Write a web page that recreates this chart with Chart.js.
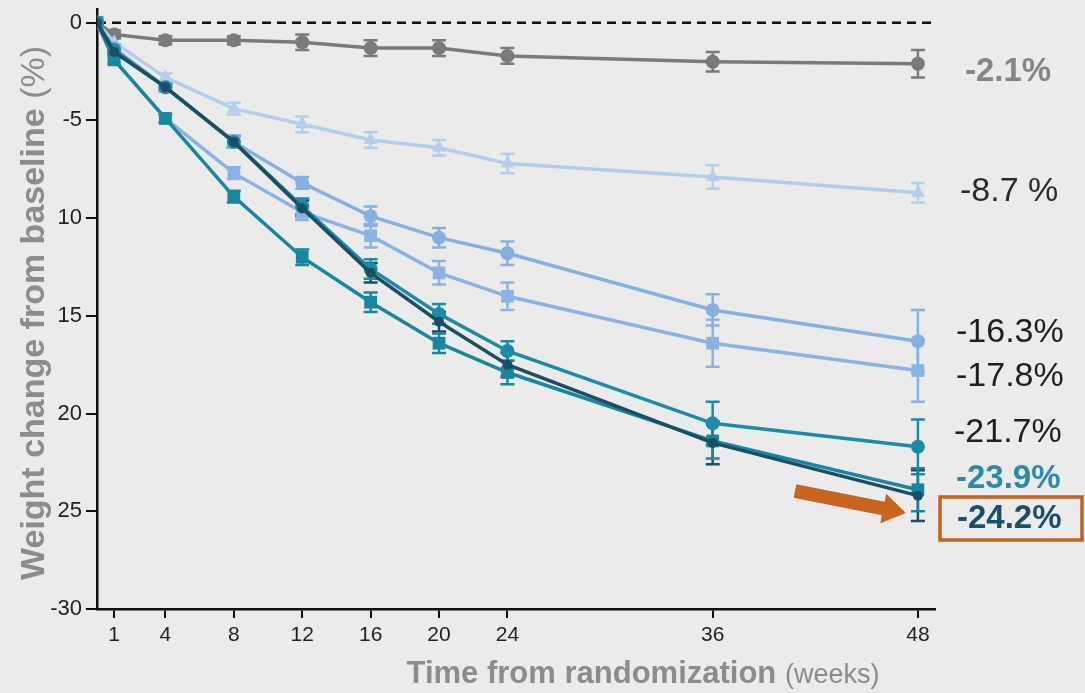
<!DOCTYPE html>
<html>
<head>
<meta charset="utf-8">
<script src="https://cdn.jsdelivr.net/npm/chart.js@4/dist/chart.umd.min.js"></script>
<style>
  html, body { margin: 0; padding: 0; background: #ebebeb; }
  #wrap { width: 1085px; height: 693px; }
</style>
</head>
<body>
<div id="wrap"><canvas id="weight-change"></canvas></div>
<script>
// Weeks from randomization
const weeks = [0, 1, 4, 8, 12, 16, 20, 24, 36, 48];

// Mean weight change (%) per arm
const placebo     = [0, -0.6, -0.9, -0.9, -1.0, -1.3, -1.3, -1.7, -2.0, -2.1];
const armTriangle = [0, -1.0, -2.8, -4.4, -5.2, -6.0, -6.4, -7.2, -7.9, -8.7];
const armCircleLt = [0, -1.3, -3.3, -6.1, -8.2, -9.9, -11.0, -11.8, -14.7, -16.3];
const armSquareLt = [0, -1.9, -4.9, -7.7, -9.7, -10.9, -12.8, -14.0, -16.4, -17.8];
const armCircleTl = [0, -1.4, -3.3, -6.1, -9.4, -12.6, -14.9, -16.8, -20.5, -21.7];
const armSquareTl = [0, -1.9, -4.9, -8.9, -12.0, -14.3, -16.4, -17.9, -21.4, -23.9];
const armNavy     = [0, -1.5, -3.3, -6.1, -9.5, -12.8, -15.3, -17.5, -21.5, -24.2];

// Error bar half widths
const errPlacebo     = [0, 0.2, 0.2, 0.2, 0.4, 0.4, 0.4, 0.4, 0.5, 0.7];
const errTriangle    = [0, 0.2, 0.2, 0.3, 0.4, 0.4, 0.4, 0.5, 0.6, 0.5];
const errCircleLt    = [0, 0.2, 0.2, 0.3, 0.3, 0.5, 0.5, 0.6, 0.8, 1.6];
const errSquareLt    = [0, 0.2, 0.2, 0.3, 0.4, 0.6, 0.6, 0.7, 1.2, 1.6];
const errCircleTl    = [0, 0.2, 0.2, 0.3, 0.4, 0.5, 0.5, 0.5, 1.1, 1.4];
const errSquareTl    = [0, 0.2, 0.2, 0.3, 0.4, 0.5, 0.5, 0.6, 0.9, 1.1];
const errNavy        = [0, 0.2, 0.2, 0.3, 0.4, 0.5, 0.5, 0.6, 1.1, 1.3];

// End-of-study labels
const endLabels = ["-2.1%", "-8.7 %", "-16.3%", "-17.8%", "-21.7%", "-23.9%", "-24.2%"];

// Axis ticks
const xTickValues = [1, 4, 8, 12, 16, 20, 24, 36, 48];
const yTickValues = [0, -5, -10, -15, -20, -25, -30];
const yTickLabels = ["0", "-5", "10", "15", "20", "25", "-30"];

const FONT = "'Liberation Sans', Arial, sans-serif";

function series(label, values, errors, color, style, radius) {
    return {
        label: label,
        data: values.map((v, i) => ({ x: weeks[i], y: v })),
        errors: errors,
        borderColor: color,
        backgroundColor: color,
        borderWidth: 3.5,
        pointStyle: style,
        pointRadius: radius,
        pointBorderWidth: 0,
        tension: 0
    };
}

// background fill
const bgPlugin = {
    id: "bg",
    beforeDraw(chart) {
        const ctx = chart.ctx;
        ctx.save();
        ctx.fillStyle = "#ebebeb";
        ctx.fillRect(0, 0, chart.width, chart.height);
        ctx.restore();
    }
};

// dashed zero line + error bars
const errorBarPlugin = {
    id: "errorBars",
    beforeDatasetsDraw(chart) {
        const ctx = chart.ctx;
        const xs = chart.scales.x, ys = chart.scales.y;
        ctx.save();
        // zero line
        ctx.strokeStyle = "#111";
        ctx.lineWidth = 2.5;
        ctx.setLineDash([9, 6]);
        ctx.beginPath();
        ctx.moveTo(chart.chartArea.left, ys.getPixelForValue(0));
        ctx.lineTo(chart.chartArea.right, ys.getPixelForValue(0));
        ctx.stroke();
        ctx.setLineDash([]);

        chart.data.datasets.forEach(ds => {
            ctx.strokeStyle = ds.borderColor;
            ctx.lineWidth = 2.5;
            ds.data.forEach((p, i) => {
                const e = ds.errors[i];
                if (!e) return;
                const x = xs.getPixelForValue(p.x);
                const y1 = ys.getPixelForValue(p.y + e);
                const y2 = ys.getPixelForValue(p.y - e);
                ctx.beginPath();
                ctx.moveTo(x, y1); ctx.lineTo(x, y2);
                ctx.moveTo(x - 7, y1); ctx.lineTo(x + 7, y1);
                ctx.moveTo(x - 7, y2); ctx.lineTo(x + 7, y2);
                ctx.stroke();
            });
        });
        ctx.restore();
    }
};

// axis titles, end labels, arrow and box
const annotationPlugin = {
    id: "annotations",
    afterDraw(chart) {
        const ctx = chart.ctx;
        ctx.save();
        ctx.textBaseline = "middle";

        // y title (bold part + normal part)
        const yBold = "Weight change from baseline ";
        const yNorm = "(%)";
        ctx.font = "bold 34px " + FONT;
        const wb = ctx.measureText(yBold).width;
        ctx.font = "34px " + FONT;
        const wn = ctx.measureText(yNorm).width;
        ctx.translate(35, 313);
        ctx.rotate(-Math.PI / 2);
        ctx.fillStyle = "#8c8c8c";
        ctx.textAlign = "left";
        ctx.font = "bold 34px " + FONT;
        ctx.fillText(yBold, -(wb + wn) / 2, 0);
        ctx.font = "34px " + FONT;
        ctx.fillText(yNorm, -(wb + wn) / 2 + wb, 0);
        ctx.setTransform(1, 0, 0, 1, 0, 0);

        // x title
        const xBold = "Time from randomization ";
        const xNorm = "(weeks)";
        ctx.font = "bold 31px " + FONT;
        const xb = ctx.measureText(xBold).width;
        ctx.font = "27px " + FONT;
        const xn = ctx.measureText(xNorm).width;
        const x0 = 643 - (xb + xn) / 2;
        ctx.font = "bold 31px " + FONT;
        ctx.fillText(xBold, x0, 674);
        ctx.font = "27px " + FONT;
        ctx.fillText(xNorm, x0 + xb, 676);

        // end labels
        const labelStyle = [
            { y: 72,  x: 965, font: "bold 33px", color: "#858585" },
            { y: 192, x: 960, font: "34px", color: "#2a2a2a" },
            { y: 333, x: 956, font: "34px", color: "#1e1e1e" },
            { y: 377, x: 956, font: "34px", color: "#1e1e1e" },
            { y: 433, x: 954, font: "34px", color: "#1e1e1e" },
            { y: 479, x: 956, font: "bold 33px", color: "#2a8ca6" },
            { y: 519, x: 957, font: "bold 33px", color: "#1b4f66" }
        ];
        endLabels.forEach((t, i) => {
            const s = labelStyle[i];
            ctx.font = s.font + " " + FONT;
            ctx.fillStyle = s.color;
            ctx.fillText(t, s.x, s.y);
        });

        // highlight box
        ctx.strokeStyle = "#c4621f";
        ctx.lineWidth = 3.5;
        ctx.strokeRect(940, 497, 142, 43);

        // arrow
        ctx.fillStyle = "#c8641e";
        ctx.translate(795, 491);
        ctx.rotate(Math.atan2(22, 111));
        ctx.beginPath();
        ctx.moveTo(0, -7);
        ctx.lineTo(90, -7);
        ctx.lineTo(90, -15);
        ctx.lineTo(113, 0);
        ctx.lineTo(90, 15);
        ctx.lineTo(90, 7);
        ctx.lineTo(0, 7);
        ctx.closePath();
        ctx.fill();
        ctx.restore();
    }
};

document.addEventListener("DOMContentLoaded", function() {
    new Chart("weight-change", {
        type: "line",
        data: {
            datasets: [
                series("Navy arm", armNavy, errNavy, "#1c4d63", "circle", 5),
                series("Teal circle arm", armCircleTl, errCircleTl, "#1a8ca8", "circle", 7),
                series("Teal square arm", armSquareTl, errSquareTl, "#17869f", "rect", 9),
                series("Light square arm", armSquareLt, errSquareLt, "#8ab3e4", "rect", 9),
                series("Light circle arm", armCircleLt, errCircleLt, "#86b0e2", "circle", 7),
                series("Light triangle arm", armTriangle, errTriangle, "#b6cdea", "triangle", 8),
                series("Placebo", placebo, errPlacebo, "#7a7a7a", "circle", 7)
            ]
        },
        options: {
            responsive: true,
            maintainAspectRatio: false,
            animation: false,
            layout: { padding: { top: 8, right: 150, left: 0, bottom: 0 } },
            plugins: {
                legend: { display: false },
                tooltip: { enabled: false }
            },
            scales: {
                x: {
                    type: "linear",
                    min: 0,
                    max: 49,
                    afterBuildTicks: scale => { scale.ticks = xTickValues.map(v => ({ value: v })); },
                    afterFit: scale => {
                        scale.height = 84;
                        scale.paddingLeft = 0;
                        scale.paddingRight = 0;
                    },
                    ticks: {
                        font: { size: 21, family: FONT },
                        color: "#222",
                        padding: 5,
                        maxRotation: 0,
                        autoSkip: false
                    },
                    grid: { drawOnChartArea: false, drawTicks: true, tickLength: 9, color: "#111", lineWidth: 2 },
                    border: { color: "#111", width: 2.5 }
                },
                y: {
                    min: -30,
                    max: 0.7,
                    afterBuildTicks: scale => { scale.ticks = yTickValues.map(v => ({ value: v })); },
                    afterFit: scale => {
                        scale.width = 97;
                        scale.paddingTop = 0;
                        scale.paddingBottom = 0;
                    },
                    ticks: {
                        font: { size: 22, family: FONT },
                        color: "#222",
                        padding: 4,
                        autoSkip: false,
                        callback: function(value) {
                            const i = yTickValues.indexOf(value);
                            return i >= 0 ? yTickLabels[i] : "";
                        }
                    },
                    grid: { drawOnChartArea: false, drawTicks: true, tickLength: 11, color: "#111", lineWidth: 2 },
                    border: { color: "#111", width: 2.5 }
                }
            }
        },
        plugins: [bgPlugin, errorBarPlugin, annotationPlugin]
    });
});
</script>
</body>
</html>
